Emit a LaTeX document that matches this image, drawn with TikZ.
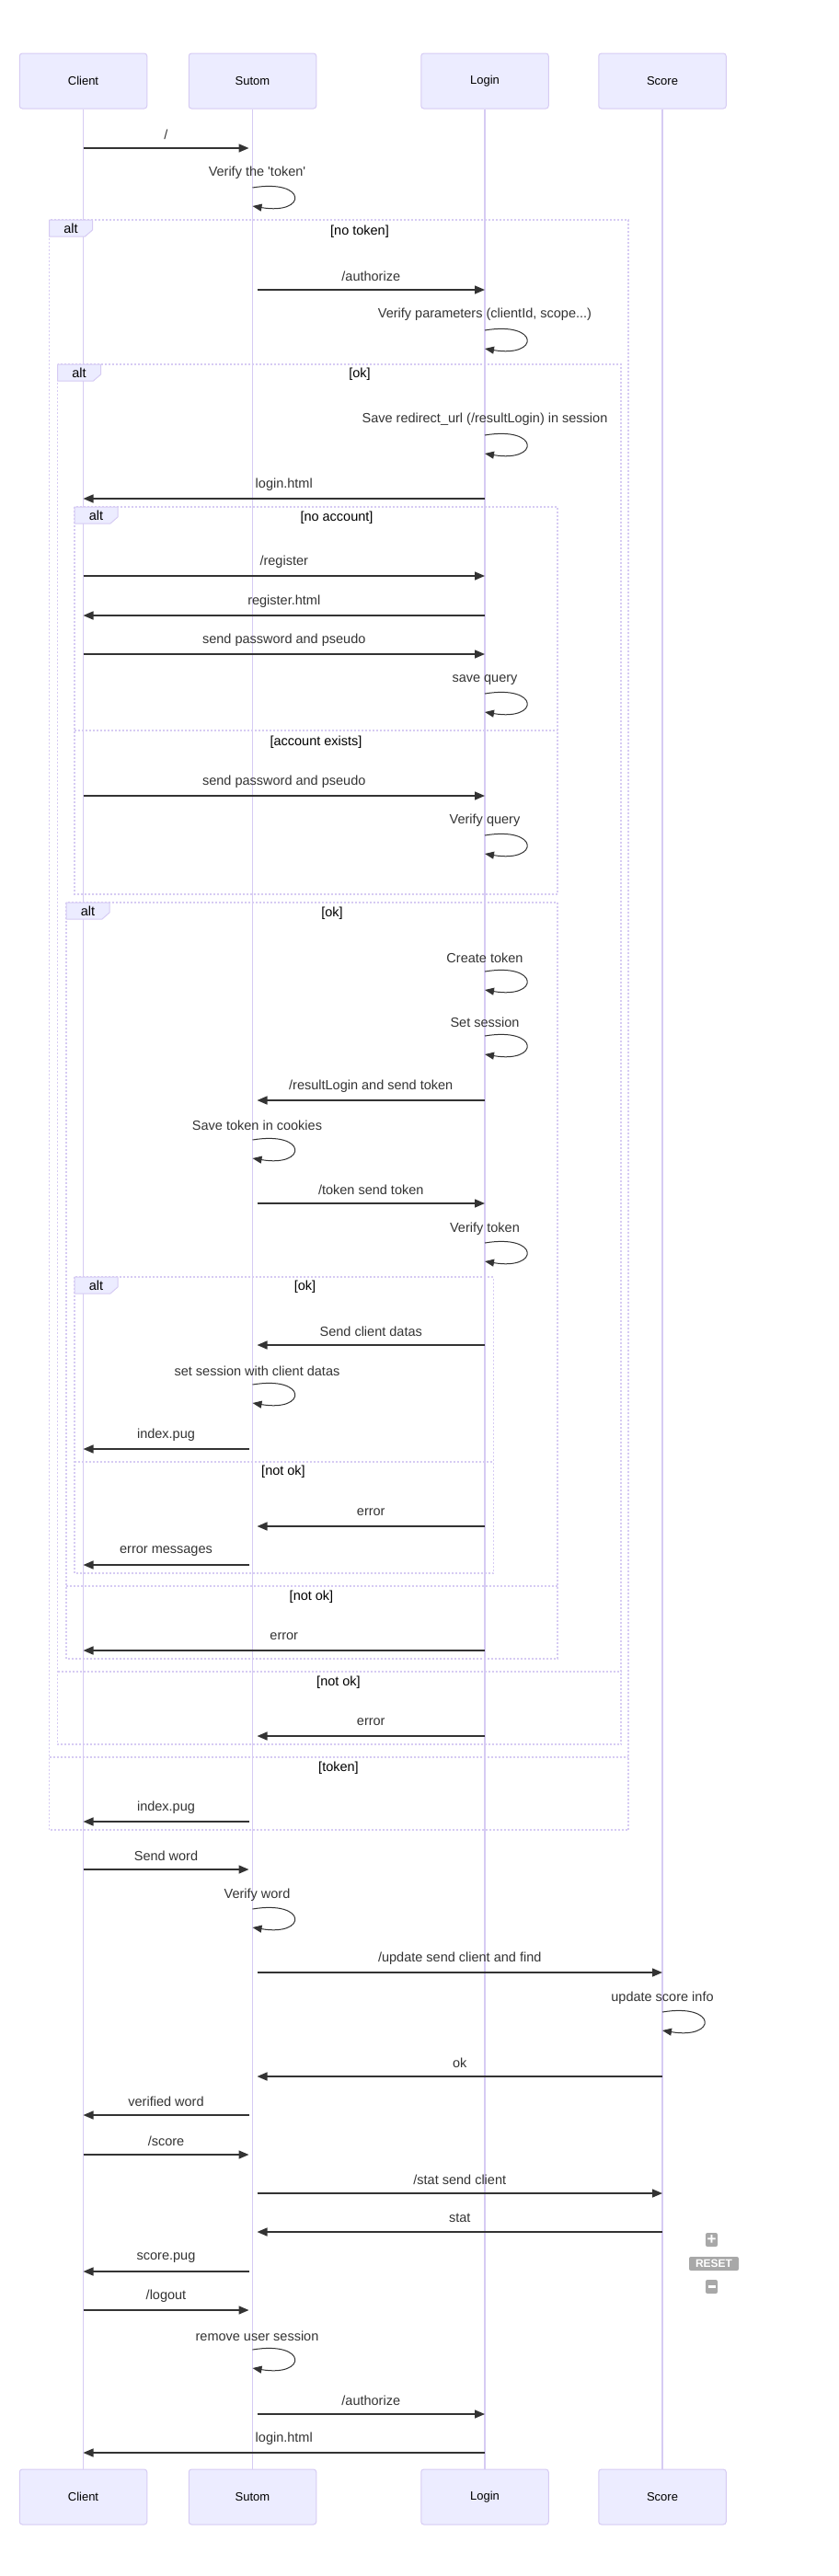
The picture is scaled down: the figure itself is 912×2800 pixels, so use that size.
\documentclass[tikz,border=0pt]{standalone}
\usepackage{fontspec}
\setmainfont{Liberation Sans}
\usetikzlibrary{arrows.meta}

\definecolor{actorfill}{HTML}{ECECFF}
\definecolor{actorline}{HTML}{D6CBF3}
\definecolor{msgline}{HTML}{333333}
\definecolor{btngrey}{HTML}{A8A8A8}

\tikzset{
  actorbox/.style={draw=actorline, fill=actorfill, line width=1pt, rounded corners=3pt,
    minimum width=138.5pt, minimum height=60pt, inner sep=0pt, font=\fontsize{13}{15}\selectfont},
  lifeline/.style={draw=actorline, line width=1.3pt},
  msg/.style={draw=msgline, line width=1.5pt, -{Triangle[length=11pt,width=9pt]}},
  loopmsg/.style={draw=msgline, line width=1pt, -{Triangle[length=10pt,width=8pt]}},
  msgtext/.style={text=msgline, inner sep=0pt, font=\fontsize{14.5}{17}\selectfont},
  condtext/.style={text=black, inner sep=0pt, font=\fontsize{14.5}{17}\selectfont},
  altframe/.style={draw=actorline, line width=1.3pt, dash pattern=on 2pt off 2pt},
  tabbox/.style={draw=actorline, fill=actorfill, line width=1pt},
  zoombtn/.style={fill=btngrey, text=white, rounded corners=2pt, inner sep=0pt,
    minimum width=13pt, minimum height=15pt, font=\bfseries\fontsize{17}{17}\selectfont},
}

\begin{document}
\begin{tikzpicture}[x=1pt, y=-1pt]

\useasboundingbox (0,0) rectangle (912,2800);

\node[actorbox] (client) at (90.5,88) {Client};
\node[actorbox] (sutom) at (274.5,88) {Sutom};
\node[actorbox] (login) at (527,88) {Login};
\node[actorbox] (score) at (720,88) {Score};
\node[actorbox] (client_bottom) at (90.5,2714) {Client};
\node[actorbox] (sutom_bottom) at (274.5,2714) {Sutom};
\node[actorbox] (login_bottom) at (527,2714) {Login};
\node[actorbox] (score_bottom) at (720,2714) {Score};
\coordinate (sutomL) at ([xshift=-4pt]sutom.center);
\coordinate (sutomR) at ([xshift=5pt]sutom.center);

\draw[lifeline] (client) -- (client_bottom);
\draw[lifeline] (sutom) -- (sutom_bottom);
\draw[lifeline] (login) -- (login_bottom);
\draw[lifeline] (score) -- (score_bottom);

% alt frames
\draw[altframe] (53.5,239) rectangle (683,1989);
\draw[altframe] (53.5,1910) -- (683,1910);
\draw[tabbox] (53.5,239) -- (100.5,239) -- (100.5,250) -- (92.5,257) -- (53.5,257) -- cycle;
\node[condtext] (alt_0_text) at (77,248) {alt};
\node[condtext] (cond_0_text) at (391,252) {[no token]};
\node[condtext] (cond_1_text) at (368,1922) {[token]};

\draw[altframe] (62.5,396) rectangle (675,1896);
\draw[altframe] (62.5,1817) -- (675,1817);
\draw[tabbox] (62.5,396) -- (109.5,396) -- (109.5,407) -- (101.5,414) -- (62.5,414) -- cycle;
\node[condtext] (alt_1_text) at (86,405) {alt};
\node[condtext] (cond_2_text) at (391,407) {[ok]};
\node[condtext] (cond_3_text) at (368,1829) {[not ok]};

\draw[altframe] (81,551) rectangle (606,972);
\draw[altframe] (81,794) -- (606,794);
\draw[tabbox] (81,551) -- (128,551) -- (128,562) -- (120,569) -- (81,569) -- cycle;
\node[condtext] (alt_2_text) at (104.5,560) {alt};
\node[condtext] (cond_4_text) at (366,563) {[no account]};
\node[condtext] (cond_5_text) at (343.5,807) {[account exists]};

\draw[altframe] (72,981) rectangle (606,1803);
\draw[altframe] (72,1724) -- (606,1724);
\draw[tabbox] (72,981) -- (119,981) -- (119,992) -- (111,999) -- (72,999) -- cycle;
\node[condtext] (alt_3_text) at (95.5,990) {alt};
\node[condtext] (cond_6_text) at (361,993) {[ok]};
\node[condtext] (cond_7_text) at (338.5,1736) {[not ok]};

\draw[altframe] (81,1388) rectangle (536.5,1710);
\draw[altframe] (81,1589) -- (536.5,1589);
\draw[tabbox] (81,1388) -- (128,1388) -- (128,1399) -- (120,1406) -- (81,1406) -- cycle;
\node[condtext] (alt_4_text) at (104.5,1397) {alt};
\node[condtext] (cond_8_text) at (331.5,1399) {[ok]};
\node[condtext] (cond_9_text) at (308,1600) {[not ok]};

% messages
\draw[msg] (client |- 0,161) -- node[msgtext, yshift=15pt] (msg_0_text) {/} (sutomL |- 0,161);
\node[msgtext] (loop_0_text) at (sutomR |- 0,188) {Verify the \textquotesingle token\textquotesingle};
\draw[loopmsg] (sutom |- 0,204) .. controls +(60,-10) and +(60,10) .. (sutom |- 0,224);
\draw[msg] (sutomR |- 0,315) -- node[msgtext, yshift=15pt] (msg_1_text) {/authorize} (login |- 0,315);
\node[msgtext] (loop_1_text) at (login |- 0,342) {Verify parameters (clientId, scope...)};
\draw[loopmsg] (login |- 0,359) .. controls +(60,-10) and +(60,10) .. (login |- 0,379);
\node[msgtext] (loop_2_text) at (login |- 0,456) {Save redirect\_url (/resultLogin) in session};
\draw[loopmsg] (login |- 0,473) .. controls +(60,-10) and +(60,10) .. (login |- 0,493);
\draw[msg] (login |- 0,542) -- node[msgtext, yshift=15pt] (msg_2_text) {login.html} (client |- 0,542);
\draw[msg] (client |- 0,626) -- node[msgtext, yshift=15pt] (msg_3_text) {/register} (login |- 0,626);
\draw[msg] (login |- 0,669) -- node[msgtext, yshift=15pt] (msg_4_text) {register.html} (client |- 0,669);
\draw[msg] (client |- 0,711) -- node[msgtext, yshift=15pt] (msg_5_text) {send password and pseudo} (login |- 0,711);
\node[msgtext] (loop_3_text) at (login |- 0,739) {save query};
\draw[loopmsg] (login |- 0,754) .. controls +(60,-10) and +(60,10) .. (login |- 0,774);
\draw[msg] (client |- 0,865) -- node[msgtext, yshift=15pt] (msg_6_text) {send password and pseudo} (login |- 0,865);
\node[msgtext] (loop_4_text) at (login |- 0,892) {Verify query};
\draw[loopmsg] (login |- 0,908) .. controls +(60,-10) and +(60,10) .. (login |- 0,928);
\node[msgtext] (loop_5_text) at (login |- 0,1041) {Create token};
\draw[loopmsg] (login |- 0,1056) .. controls +(60,-10) and +(60,10) .. (login |- 0,1076);
\node[msgtext] (loop_6_text) at (login |- 0,1111) {Set session};
\draw[loopmsg] (login |- 0,1126) .. controls +(60,-10) and +(60,10) .. (login |- 0,1146);
\draw[msg] (login |- 0,1196) -- node[msgtext, yshift=15pt] (msg_7_text) {/resultLogin and send token} (sutomR |- 0,1196);
\node[msgtext] (loop_7_text) at (sutomR |- 0,1223) {Save token in cookies};
\draw[loopmsg] (sutom |- 0,1239) .. controls +(60,-10) and +(60,10) .. (sutom |- 0,1259);
\draw[msg] (sutomR |- 0,1308) -- node[msgtext, yshift=15pt] (msg_8_text) {/token send token} (login |- 0,1308);
\node[msgtext] (loop_8_text) at (login |- 0,1336) {Verify token};
\draw[loopmsg] (login |- 0,1351) .. controls +(60,-10) and +(60,10) .. (login |- 0,1371);
\draw[msg] (login |- 0,1462) -- node[msgtext, yshift=15pt] (msg_9_text) {Send client datas} (sutomR |- 0,1462);
\node[msgtext] (loop_9_text) at (sutomR |- 0,1490) {set session with client datas};
\draw[loopmsg] (sutom |- 0,1505) .. controls +(60,-10) and +(60,10) .. (sutom |- 0,1525);
\draw[msg] (sutomL |- 0,1575) -- node[msgtext, yshift=15pt] (msg_10_text) {index.pug} (client |- 0,1575);
\draw[msg] (login |- 0,1659) -- node[msgtext, yshift=15pt] (msg_11_text) {error} (sutomR |- 0,1659);
\draw[msg] (sutomL |- 0,1701) -- node[msgtext, yshift=15pt] (msg_12_text) {error messages} (client |- 0,1701);
\draw[msg] (login |- 0,1794) -- node[msgtext, yshift=15pt] (msg_13_text) {error} (client |- 0,1794);
\draw[msg] (login |- 0,1887) -- node[msgtext, yshift=15pt] (msg_14_text) {error} (sutomR |- 0,1887);
\draw[msg] (sutomL |- 0,1980) -- node[msgtext, yshift=15pt] (msg_15_text) {index.pug} (client |- 0,1980);
\draw[msg] (client |- 0,2032) -- node[msgtext, yshift=15pt] (msg_16_text) {Send word} (sutomL |- 0,2032);
\node[msgtext] (loop_10_text) at (sutomR |- 0,2060) {Verify word};
\draw[loopmsg] (sutom |- 0,2075) .. controls +(60,-10) and +(60,10) .. (sutom |- 0,2095);
\draw[msg] (sutomR |- 0,2144) -- node[msgtext, yshift=15pt] (msg_17_text) {/update send client and find} (score |- 0,2144);
\node[msgtext] (loop_11_text) at (score |- 0,2172) {update score info};
\draw[loopmsg] (score |- 0,2187) .. controls +(60,-10) and +(60,10) .. (score |- 0,2207);
\draw[msg] (score |- 0,2257) -- node[msgtext, yshift=15pt] (msg_18_text) {ok} (sutomR |- 0,2257);
\draw[msg] (sutomL |- 0,2299) -- node[msgtext, yshift=15pt] (msg_19_text) {verified word} (client |- 0,2299);
\draw[msg] (client |- 0,2342) -- node[msgtext, yshift=15pt] (msg_20_text) {/score} (sutomL |- 0,2342);
\draw[msg] (sutomR |- 0,2384) -- node[msgtext, yshift=15pt] (msg_21_text) {/stat send client} (score |- 0,2384);
\draw[msg] (score |- 0,2426) -- node[msgtext, yshift=15pt] (msg_22_text) {stat} (sutomR |- 0,2426);
\draw[msg] (sutomL |- 0,2469) -- node[msgtext, yshift=15pt] (msg_23_text) {score.pug} (client |- 0,2469);
\draw[msg] (client |- 0,2511) -- node[msgtext, yshift=15pt] (msg_24_text) {/logout} (sutomL |- 0,2511);
\node[msgtext] (loop_12_text) at (sutomR |- 0,2539) {remove user session};
\draw[loopmsg] (sutom |- 0,2554) .. controls +(60,-10) and +(60,10) .. (sutom |- 0,2574);
\draw[msg] (sutomR |- 0,2624) -- node[msgtext, yshift=15pt] (msg_25_text) {/authorize} (login |- 0,2624);
\draw[msg] (login |- 0,2666) -- node[msgtext, yshift=15pt] (msg_26_text) {login.html} (client |- 0,2666);

% zoom buttons
\node[zoombtn] (zoom_in) at (773.5,2434.5) {+};
\node[zoombtn, minimum width=54pt, font=\bfseries\fontsize{12}{12}\selectfont] (zoom_reset) at (776,2460.5) {RESET};
\node[zoombtn] (zoom_out) at (773.5,2485.5) {\rule{8pt}{3pt}};

\end{tikzpicture}
\end{document}
